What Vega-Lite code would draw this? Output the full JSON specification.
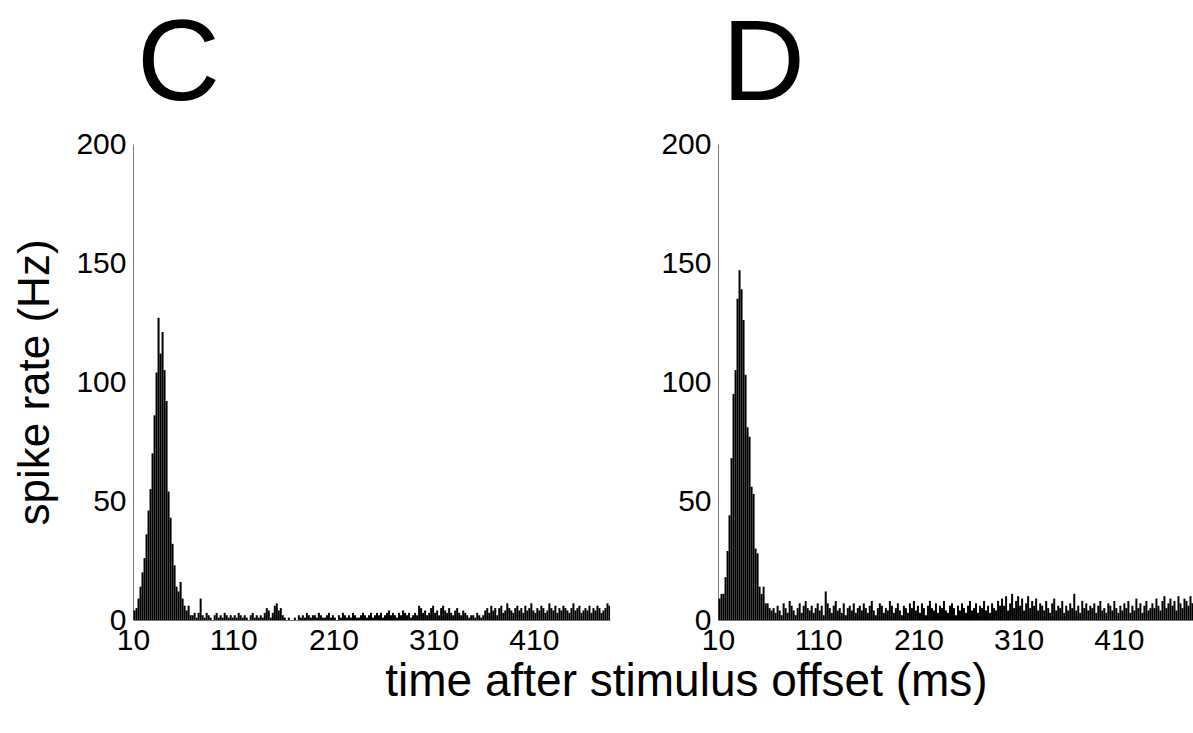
{
  "$schema": "https://vega.github.io/schema/vega-lite/v6.json",
  "background": "white",
  "padding": {"left": 13, "top": 8, "right": 0, "bottom": 0},
  "config": {
    "font": "Liberation Sans",
    "view": {"stroke": null},
    "axis": {"grid": false, "domainColor": "#777", "domainWidth": 1, "ticks": false, "labelFontSize": 30, "labelColor": "black", "labelFont": "Liberation Sans", "titleFontSize": 44, "titleFontWeight": "normal", "titleColor": "black", "titleFont": "Liberation Sans"},
    "axisX": {"labelPadding": 5},
    "axisY": {"labelPadding": 7},
    "concat": {"spacing": 50}
  },
  "title": {"text": "time after stimulus offset (ms)", "orient": "bottom", "fontSize": 46, "fontWeight": "normal", "anchor": "middle", "offset": 5, "dx": 82, "color": "black"},
  "datasets": {
    "h": [
      {"t":10,"c":4,"d":9},{"t":12,"c":5,"d":11},{"t":14,"c":9,"d":11},{"t":16,"c":14,"d":18},{"t":18,"c":20,"d":29},
      {"t":20,"c":26,"d":44},{"t":22,"c":36,"d":68},{"t":24,"c":46,"d":95},{"t":26,"c":55,"d":105},{"t":28,"c":70,"d":135},
      {"t":30,"c":86,"d":147},{"t":32,"c":104,"d":139},{"t":34,"c":127,"d":126},{"t":36,"c":112,"d":103},{"t":38,"c":121,"d":81},
      {"t":40,"c":105,"d":77},{"t":42,"c":92,"d":56},{"t":44,"c":54,"d":53},{"t":46,"c":43,"d":30},{"t":48,"c":32,"d":28},
      {"t":50,"c":23,"d":14},{"t":52,"c":14,"d":11},{"t":54,"c":12,"d":14},{"t":56,"c":16,"d":7},{"t":58,"c":9,"d":7},
      {"t":60,"c":6,"d":5},{"t":62,"c":4,"d":4},{"t":64,"c":6,"d":5},{"t":66,"c":2,"d":3},{"t":68,"c":2,"d":6},
      {"t":70,"c":3,"d":4},{"t":72,"c":1,"d":2},{"t":74,"c":3,"d":7},{"t":76,"c":9,"d":5},{"t":78,"c":2,"d":3},
      {"t":80,"c":1,"d":8},{"t":82,"c":3,"d":6},{"t":84,"c":2,"d":4},{"t":86,"c":1,"d":2},{"t":88,"c":0,"d":5},
      {"t":90,"c":2,"d":7},{"t":92,"c":3,"d":3},{"t":94,"c":1,"d":6},{"t":96,"c":2,"d":8},{"t":98,"c":1,"d":5},
      {"t":100,"c":3,"d":4},{"t":102,"c":2,"d":6},{"t":104,"c":1,"d":3},{"t":106,"c":2,"d":5},{"t":108,"c":1,"d":7},
      {"t":110,"c":2,"d":4},{"t":112,"c":1,"d":6},{"t":114,"c":3,"d":2},{"t":116,"c":2,"d":12},{"t":118,"c":1,"d":7},
      {"t":120,"c":2,"d":5},{"t":122,"c":1,"d":3},{"t":124,"c":0,"d":6},{"t":126,"c":2,"d":8},{"t":128,"c":3,"d":4},
      {"t":130,"c":1,"d":5},{"t":132,"c":2,"d":3},{"t":134,"c":1,"d":7},{"t":136,"c":2,"d":2},{"t":138,"c":1,"d":5},
      {"t":140,"c":3,"d":6},{"t":142,"c":5,"d":4},{"t":144,"c":4,"d":7},{"t":146,"c":1,"d":3},{"t":148,"c":3,"d":5},
      {"t":150,"c":6,"d":6},{"t":152,"c":7,"d":4},{"t":154,"c":4,"d":7},{"t":156,"c":5,"d":5},{"t":158,"c":2,"d":3},
      {"t":160,"c":1,"d":6},{"t":162,"c":0,"d":8},{"t":164,"c":1,"d":4},{"t":166,"c":0,"d":2},{"t":168,"c":0,"d":5},
      {"t":170,"c":1,"d":7},{"t":172,"c":0,"d":6},{"t":174,"c":2,"d":3},{"t":176,"c":1,"d":5},{"t":178,"c":2,"d":4},
      {"t":180,"c":1,"d":8},{"t":182,"c":3,"d":6},{"t":184,"c":2,"d":3},{"t":186,"c":1,"d":5},{"t":188,"c":2,"d":7},
      {"t":190,"c":2,"d":4},{"t":192,"c":1,"d":2},{"t":194,"c":3,"d":6},{"t":196,"c":2,"d":5},{"t":198,"c":1,"d":3},
      {"t":200,"c":1,"d":7},{"t":202,"c":2,"d":5},{"t":204,"c":3,"d":8},{"t":206,"c":1,"d":4},{"t":208,"c":2,"d":6},
      {"t":210,"c":1,"d":3},{"t":212,"c":0,"d":7},{"t":214,"c":2,"d":5},{"t":216,"c":1,"d":2},{"t":218,"c":3,"d":6},
      {"t":220,"c":2,"d":8},{"t":222,"c":1,"d":5},{"t":224,"c":2,"d":4},{"t":226,"c":1,"d":7},{"t":228,"c":3,"d":3},
      {"t":230,"c":2,"d":6},{"t":232,"c":1,"d":5},{"t":234,"c":1,"d":8},{"t":236,"c":2,"d":4},{"t":238,"c":3,"d":3},
      {"t":240,"c":2,"d":6},{"t":242,"c":1,"d":7},{"t":244,"c":2,"d":5},{"t":246,"c":3,"d":2},{"t":248,"c":1,"d":6},
      {"t":250,"c":2,"d":4},{"t":252,"c":3,"d":7},{"t":254,"c":2,"d":5},{"t":256,"c":3,"d":3},{"t":258,"c":1,"d":6},
      {"t":260,"c":2,"d":8},{"t":262,"c":3,"d":4},{"t":264,"c":4,"d":5},{"t":266,"c":2,"d":7},{"t":268,"c":3,"d":3},
      {"t":270,"c":2,"d":6},{"t":272,"c":1,"d":5},{"t":274,"c":3,"d":8},{"t":276,"c":2,"d":4},{"t":278,"c":4,"d":6},
      {"t":280,"c":3,"d":3},{"t":282,"c":2,"d":7},{"t":284,"c":3,"d":5},{"t":286,"c":1,"d":4},{"t":288,"c":2,"d":8},
      {"t":290,"c":3,"d":6},{"t":292,"c":2,"d":9},{"t":294,"c":6,"d":6},{"t":296,"c":5,"d":10},{"t":298,"c":3,"d":4},
      {"t":300,"c":4,"d":7},{"t":302,"c":2,"d":11},{"t":304,"c":3,"d":5},{"t":306,"c":5,"d":8},{"t":308,"c":6,"d":10},
      {"t":310,"c":3,"d":6},{"t":312,"c":4,"d":9},{"t":314,"c":2,"d":4},{"t":316,"c":5,"d":7},{"t":318,"c":6,"d":10},
      {"t":320,"c":4,"d":5},{"t":322,"c":3,"d":8},{"t":324,"c":5,"d":6},{"t":326,"c":3,"d":9},{"t":328,"c":2,"d":4},
      {"t":330,"c":4,"d":7},{"t":332,"c":5,"d":6},{"t":334,"c":3,"d":4},{"t":336,"c":2,"d":8},{"t":338,"c":4,"d":5},
      {"t":340,"c":3,"d":3},{"t":342,"c":2,"d":7},{"t":344,"c":1,"d":9},{"t":346,"c":2,"d":4},{"t":348,"c":2,"d":6},
      {"t":350,"c":1,"d":5},{"t":352,"c":3,"d":8},{"t":354,"c":2,"d":3},{"t":356,"c":1,"d":6},{"t":358,"c":2,"d":4},
      {"t":360,"c":4,"d":7},{"t":362,"c":5,"d":5},{"t":364,"c":3,"d":11},{"t":366,"c":6,"d":4},{"t":368,"c":4,"d":6},
      {"t":370,"c":5,"d":3},{"t":372,"c":2,"d":8},{"t":374,"c":5,"d":5},{"t":376,"c":6,"d":7},{"t":378,"c":3,"d":4},
      {"t":380,"c":4,"d":6},{"t":382,"c":7,"d":5},{"t":384,"c":5,"d":7},{"t":386,"c":4,"d":3},{"t":388,"c":3,"d":6},
      {"t":390,"c":5,"d":8},{"t":392,"c":6,"d":4},{"t":394,"c":4,"d":5},{"t":396,"c":5,"d":3},{"t":398,"c":3,"d":7},
      {"t":400,"c":6,"d":6},{"t":402,"c":4,"d":4},{"t":404,"c":5,"d":8},{"t":406,"c":7,"d":5},{"t":408,"c":4,"d":3},
      {"t":410,"c":3,"d":6},{"t":412,"c":5,"d":4},{"t":414,"c":4,"d":7},{"t":416,"c":6,"d":5},{"t":418,"c":5,"d":8},
      {"t":420,"c":3,"d":3},{"t":422,"c":4,"d":6},{"t":424,"c":7,"d":4},{"t":426,"c":5,"d":9},{"t":428,"c":4,"d":5},
      {"t":430,"c":6,"d":7},{"t":432,"c":3,"d":3},{"t":434,"c":5,"d":6},{"t":436,"c":4,"d":8},{"t":438,"c":6,"d":4},
      {"t":440,"c":5,"d":5},{"t":442,"c":4,"d":7},{"t":444,"c":3,"d":5},{"t":446,"c":5,"d":9},{"t":448,"c":7,"d":6},
      {"t":450,"c":4,"d":4},{"t":452,"c":5,"d":8},{"t":454,"c":6,"d":10},{"t":456,"c":3,"d":5},{"t":458,"c":4,"d":7},
      {"t":460,"c":5,"d":9},{"t":462,"c":4,"d":6},{"t":464,"c":6,"d":8},{"t":466,"c":3,"d":4},{"t":468,"c":5,"d":10},
      {"t":470,"c":4,"d":7},{"t":472,"c":6,"d":5},{"t":474,"c":5,"d":9},{"t":476,"c":3,"d":8},{"t":478,"c":4,"d":6},
      {"t":480,"c":5,"d":10},{"t":482,"c":7,"d":7},{"t":484,"c":6,"d":9}
    ]
  },
  "hconcat": [
    {
      "width": 477,
      "height": 476,
      "title": {"text": "C", "fontSize": 115, "fontWeight": "normal", "anchor": "start", "frame": "group", "offset": 5, "dx": 4, "color": "black"},
      "data": {"name": "h"},
      "mark": {"type": "bar", "fill": "black", "strokeWidth": 0, "binSpacing": 0, "clip": true},
      "encoding": {
        "x": {"field": "t", "type": "quantitative", "bin": {"binned": true, "step": 2}, "scale": {"domain": [10, 486], "nice": false, "zero": false}, "axis": {"values": [10, 110, 210, 310, 410], "title": null, "labelFlush": false}},
        "y": {"field": "c", "type": "quantitative", "scale": {"domain": [0, 200], "nice": false}, "axis": {"values": [0, 50, 100, 150, 200], "title": "spike rate (Hz)", "titlePadding": 18}}
      }
    },
    {
      "width": 477,
      "height": 476,
      "title": {"text": "D", "fontSize": 115, "fontWeight": "normal", "anchor": "start", "frame": "group", "offset": 5, "dx": 4, "color": "black"},
      "data": {"name": "h"},
      "mark": {"type": "bar", "fill": "black", "strokeWidth": 0, "binSpacing": 0, "clip": true},
      "encoding": {
        "x": {"field": "t", "type": "quantitative", "bin": {"binned": true, "step": 2}, "scale": {"domain": [10, 486], "nice": false, "zero": false}, "axis": {"values": [10, 110, 210, 310, 410], "title": null, "labelFlush": false}},
        "y": {"field": "d", "type": "quantitative", "scale": {"domain": [0, 200], "nice": false}, "axis": {"values": [0, 50, 100, 150, 200], "title": null}}
      }
    }
  ]
}
